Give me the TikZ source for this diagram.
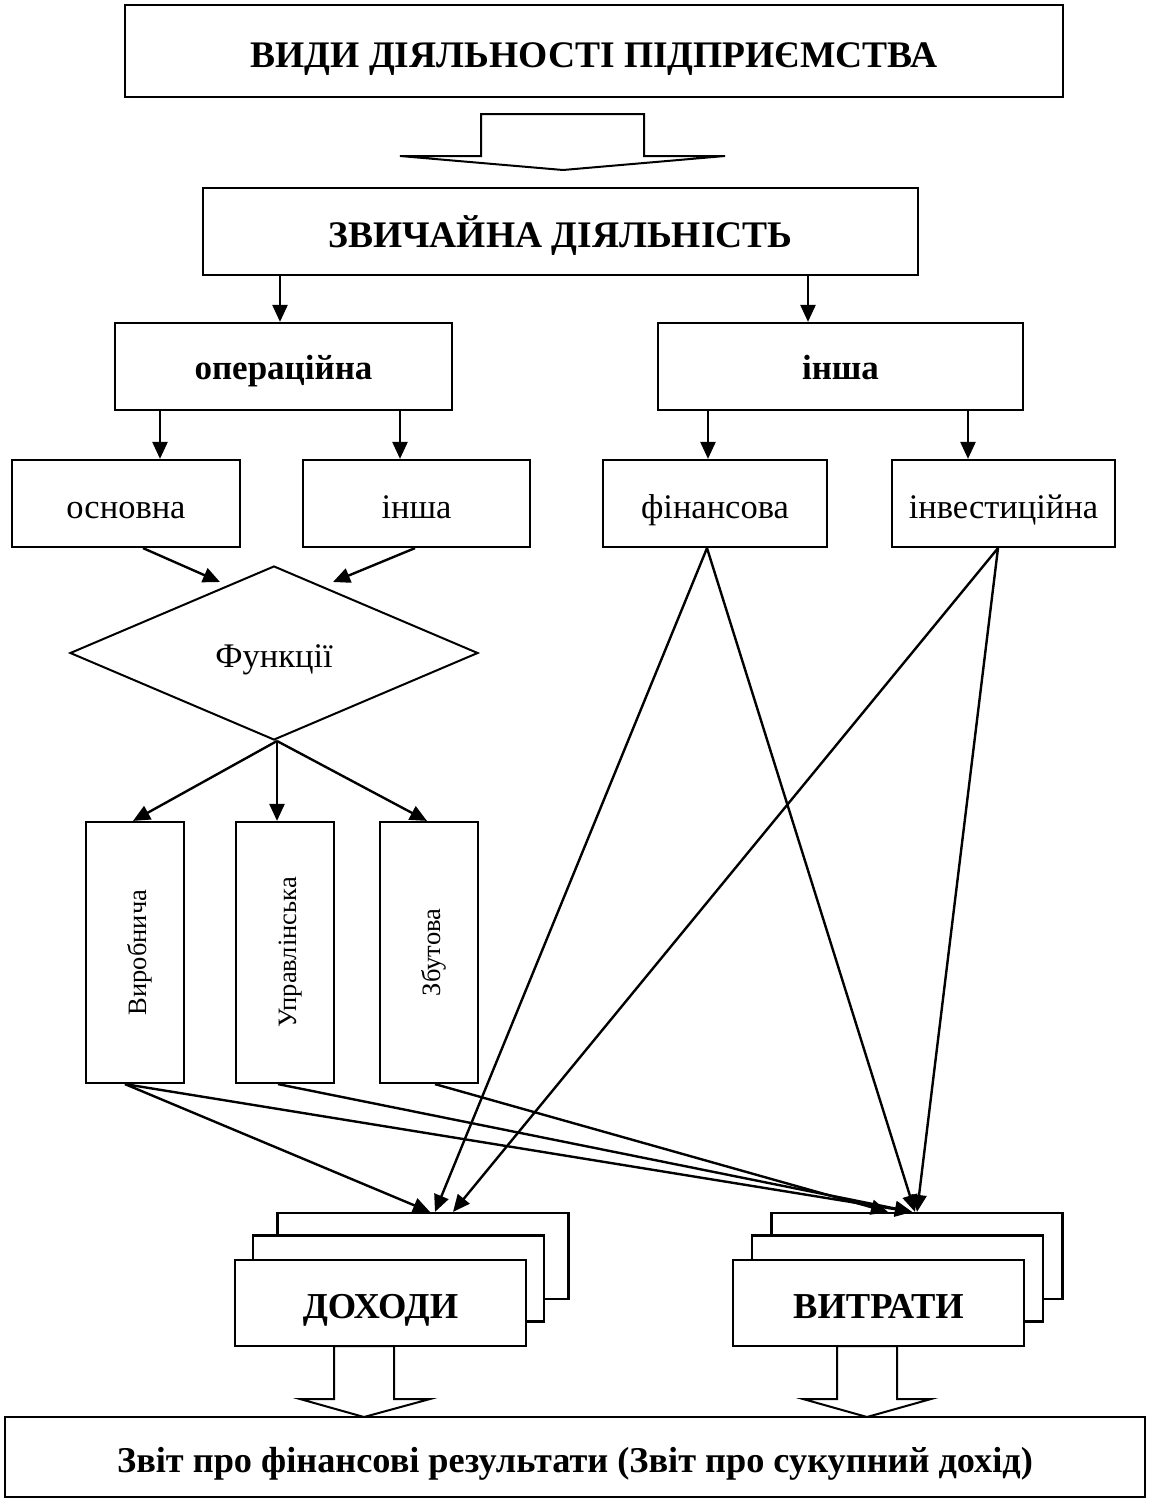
\documentclass[tikz,border=0pt]{standalone}
\usepackage{fontspec}
\setmainfont{Liberation Serif}
\usetikzlibrary{arrows.meta,shapes.geometric}

\begin{document}
\begin{tikzpicture}[x=1pt,y=-1pt,
  box/.style={draw, line width=2.2pt, inner sep=0pt, fill=white,
    text height=30pt, text depth=0pt,
    font=\fontsize{34.5}{40}\selectfont},
  bfbox/.style={box, text height=26pt, font=\fontsize{35}{40}\selectfont\bfseries},
  headbox/.style={box, text height=32pt, font=\fontsize{37.5}{42}\selectfont\bfseries},
  vbox/.style={box, rotate=90, minimum width=261pt, minimum height=98pt,
    text height=22pt, font=\fontsize{26.5}{30}\selectfont},
  stackbox/.style={box, minimum width=291pt, minimum height=86pt,
    text height=31pt, font=\fontsize{36.5}{40}\selectfont\bfseries},
  arr/.style={line width=2.4pt, -{Triangle[length=17pt,width=15pt]}},
  blk/.style={draw, line width=2pt, fill=white, line join=miter}
]
\useasboundingbox (0,0) rectangle (1150,1499);

% headings
\node[headbox, minimum width=938pt, minimum height=92pt] (title) at (594,51)
  {ВИДИ ДІЯЛЬНОСТІ ПІДПРИЄМСТВА};
\node[headbox, minimum width=715pt, minimum height=87pt] (zv) at (560.5,231.5)
  {ЗВИЧАЙНА ДІЯЛЬНІСТЬ};

% block arrow between the headings
\draw[blk] (481,114) -- (644,114) -- (644,156) -- (725,156) -- (563,170)
  -- (400,156) -- (481,156) -- cycle;

% second level
\node[bfbox, minimum width=337pt, minimum height=87pt] (op) at (283.5,366.5) {операційна};
\node[bfbox, minimum width=365pt, minimum height=87pt] (insha) at (840.5,366.5) {інша};

% third level
\node[box, minimum width=228pt, minimum height=87pt] (osn) at (126,503.5) {основна};
\node[box, minimum width=227pt, minimum height=87pt] (in2) at (416.5,503.5) {інша};
\node[box, minimum width=224pt, minimum height=87pt] (fin) at (715,503.5) {фінансова};
\node[box, minimum width=223pt, minimum height=87pt] (inv) at (1003.5,503.5) {інвестиційна};

% functions
\node[diamond, draw, line width=2pt, inner sep=0pt, minimum width=408pt,
  minimum height=174pt, text height=28pt, text depth=0pt,
  font=\fontsize{34.5}{40}\selectfont] (fn) at (274,653) {Функції};

\node[vbox] (vb1) at (135,952.5) {Виробнича};
\node[vbox] (vb2) at (285,952.5) {Управлінська};
\node[vbox] (vb3) at (429,952.5) {Збутова};

% stacked result boxes
\node[stackbox] (dohA) at (423,1256) {};
\node[stackbox] (dohB) at (398.5,1278.5) {};
\node[stackbox] (doh) at (380.5,1303) {ДОХОДИ};
\node[stackbox] (vitA) at (917,1256) {};
\node[stackbox] (vitB) at (897.5,1278.5) {};
\node[stackbox] (vit) at (878.5,1303) {ВИТРАТИ};

% report
\node[box, minimum width=1140pt, minimum height=80pt, text height=31pt,
  font=\fontsize{36.3}{40}\selectfont\bfseries] (rep) at (575,1457)
  {Звіт про фінансові результати (Звіт про сукупний дохід)};

% block arrows into the report
\draw[blk] (334,1346) -- (394,1346) -- (394,1399) -- (430,1399) -- (364,1417)
  -- (300,1399) -- (334,1399) -- cycle;
\draw[blk] (837,1346) -- (897,1346) -- (897,1399) -- (931,1399) -- (867,1417)
  -- (803,1399) -- (837,1399) -- cycle;

% tree connectors
\draw[arr] ([xshift=-3.5pt,yshift=48pt]op.north) -- ([xshift=-3.5pt]op.north);
\draw[arr] ([xshift=-32.5pt,yshift=48pt]insha.north) -- ([xshift=-32.5pt]insha.north);
\draw[arr] ([xshift=34pt,yshift=50pt]osn.north) -- ([xshift=34pt]osn.north);
\draw[arr] ([xshift=-16.5pt,yshift=50pt]in2.north) -- ([xshift=-16.5pt]in2.north);
\draw[arr] ([xshift=-7pt,yshift=50pt]fin.north) -- ([xshift=-7pt]fin.north);
\draw[arr] ([xshift=-35.5pt,yshift=50pt]inv.north) -- ([xshift=-35.5pt]inv.north);

% into the diamond
\draw[arr] ([xshift=17pt]osn.south) -- ([xshift=-54pt,yshift=-17pt]fn.north);
\draw[arr] ([xshift=-1.5pt]in2.south) -- ([xshift=59pt,yshift=-17pt]fn.north);

% out of the diamond
\draw[arr] ([xshift=3pt]fn.south) -- ([xshift=-2pt]vb1.east);
\draw[arr] ([xshift=3pt]fn.south) -- ([xshift=-8pt]vb2.east);
\draw[arr] ([xshift=3pt]fn.south) -- ([xshift=-2pt]vb3.east);

% functions to incomes and expenses
\draw[arr] ([xshift=-10pt]vb1.west) -- ([xshift=7pt]dohA.north);
\draw[arr] ([xshift=-10pt]vb1.west) -- ([xshift=-5pt]vitA.north);
\draw[arr] ([xshift=-7pt]vb2.west) -- ([xshift=-5pt]vitA.north);
\draw[arr] ([xshift=6pt]vb3.west) -- ([xshift=-29pt]vitA.north);

% financial and investment activity
\draw[arr] ([xshift=-8pt]fin.south) -- ([xshift=12pt]dohA.north);
\draw[arr] ([xshift=-8pt]fin.south) -- ([xshift=-2pt]vitA.north);
\draw[arr] ([xshift=-5.5pt]inv.south) -- ([xshift=30pt]dohA.north);
\draw[arr] ([xshift=-5.5pt]inv.south) -- ([xshift=0pt]vitA.north);
\end{tikzpicture}
\end{document}
